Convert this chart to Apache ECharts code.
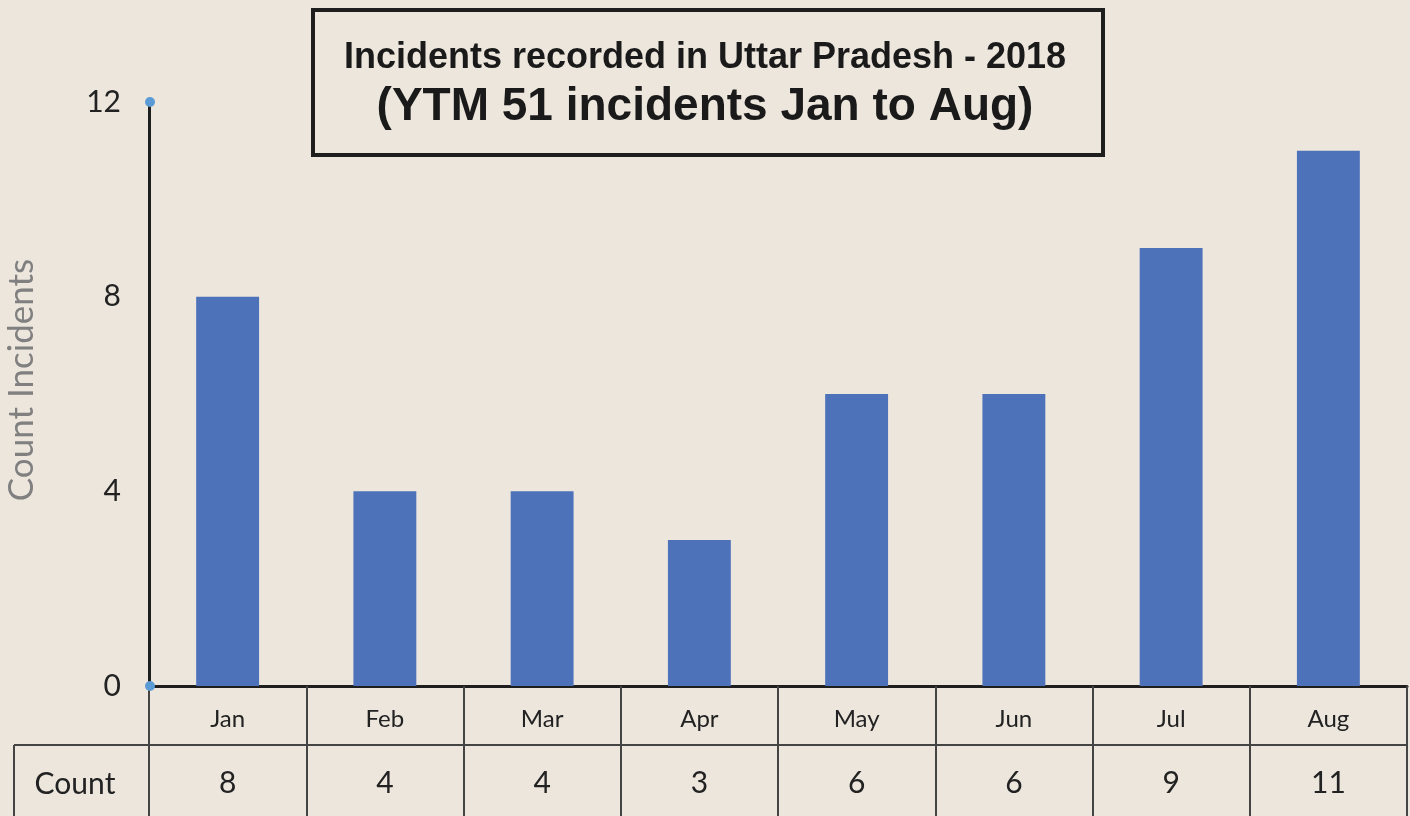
<!DOCTYPE html>
<html>
<head>
<meta charset="utf-8">
<script src="https://cdn.jsdelivr.net/npm/echarts@6/dist/echarts.min.js"></script>
<style>
  html, body { margin: 0; padding: 0; background: #ece6dd; }
  #chart { width: 1410px; height: 816px; }
</style>
</head>
<body>
<div id="chart"></div>
<script>
// data
var months = ['Jan', 'Feb', 'Mar', 'Apr', 'May', 'Jun', 'Jul', 'Aug'];
var counts = [8, 4, 4, 3, 6, 6, 9, 11];
var yTicks = { min: 0, max: 12, interval: 4 };

var bodyFont = 'Lato, "Open Sans", sans-serif';
var titleFont = '"Liberation Sans Narrow", "Arial Narrow", "Liberation Sans", Arial, sans-serif';

var option = {
    backgroundColor: '#ece6dd',
    animation: false,
    title: {
        text: '{a|Incidents recorded in Uttar Pradesh - 2018}\n{b|(YTM 51 incidents Jan to Aug)}',
        left: 'center',
        top: 29,
        textStyle: {
            rich: {
                a: { fontFamily: titleFont, fontWeight: 'bold', fontSize: 36, color: '#1a1a1a', lineHeight: 48, align: 'center' },
                b: { fontFamily: titleFont, fontWeight: 'bold', fontSize: 46, color: '#1a1a1a', lineHeight: 50, align: 'center' }
            }
        }
    },
    grid: {
        left: 149,
        right: 3,
        top: 102,
        bottom: 130,
        outerBoundsMode: 'none'
    },
    xAxis: [{
        type: 'category',
        data: months,
        position: 'bottom',
        axisLine: { show: true, lineStyle: { color: '#1e1e1e', width: 3 } },
        axisTick: { show: true, length: 130, lineStyle: { color: '#444', width: 2 } },
        axisLabel: { margin: 21, fontFamily: bodyFont, fontSize: 24, color: '#222' },
        splitLine: { show: false }
    }, {
        type: 'category',
        data: counts.map(String),
        position: 'bottom',
        axisLine: { show: false },
        axisTick: { show: false },
        axisLabel: { margin: 82, fontFamily: bodyFont, fontSize: 30, color: '#222' },
        splitLine: { show: false }
    }],
    yAxis: {
        type: 'value',
        min: yTicks.min,
        max: yTicks.max,
        interval: yTicks.interval,
        name: 'Count Incidents',
        nameLocation: 'middle',
        nameRotate: 90,
        nameGap: 110,
        nameTextStyle: { fontFamily: bodyFont, fontSize: 35, color: '#808080', padding: [0, 0, 0, 28] },
        axisLine: { show: true, lineStyle: { color: '#1e1e1e', width: 3 } },
        axisTick: { show: false },
        axisLabel: { margin: 28, fontFamily: bodyFont, fontSize: 30, color: '#222' },
        splitLine: { show: false }
    },
    series: [{
        name: 'Count',
        type: 'bar',
        xAxisIndex: 0,
        barWidth: '40%',
        data: counts,
        itemStyle: { color: '#4d72b9' }
    }],
    graphic: [
        // title frame
        { type: 'rect', shape: { x: 313, y: 10, width: 790, height: 145 }, style: { fill: 'none', stroke: '#1e1e1e', lineWidth: 4 }, z: 5 },
        // data table: row divider and label cell
        { type: 'line', shape: { x1: 14, y1: 745, x2: 1407, y2: 745 }, style: { stroke: '#444', lineWidth: 2 } },
        { type: 'line', shape: { x1: 14, y1: 745, x2: 14, y2: 816 }, style: { stroke: '#444', lineWidth: 2 } },
        { type: 'text', x: 75, y: 784, style: { text: 'Count', fontFamily: bodyFont, fontSize: 30, fill: '#222', align: 'center', verticalAlign: 'middle' } },
        // axis end dots
        { type: 'circle', shape: { cx: 150, cy: 102, r: 5 }, style: { fill: '#5b9bd5' }, z: 10 },
        { type: 'circle', shape: { cx: 150, cy: 686, r: 5 }, style: { fill: '#5b9bd5' }, z: 10 }
    ]
};

var chart = echarts.init(document.getElementById('chart'));
chart.setOption(option);
</script>
</body>
</html>
